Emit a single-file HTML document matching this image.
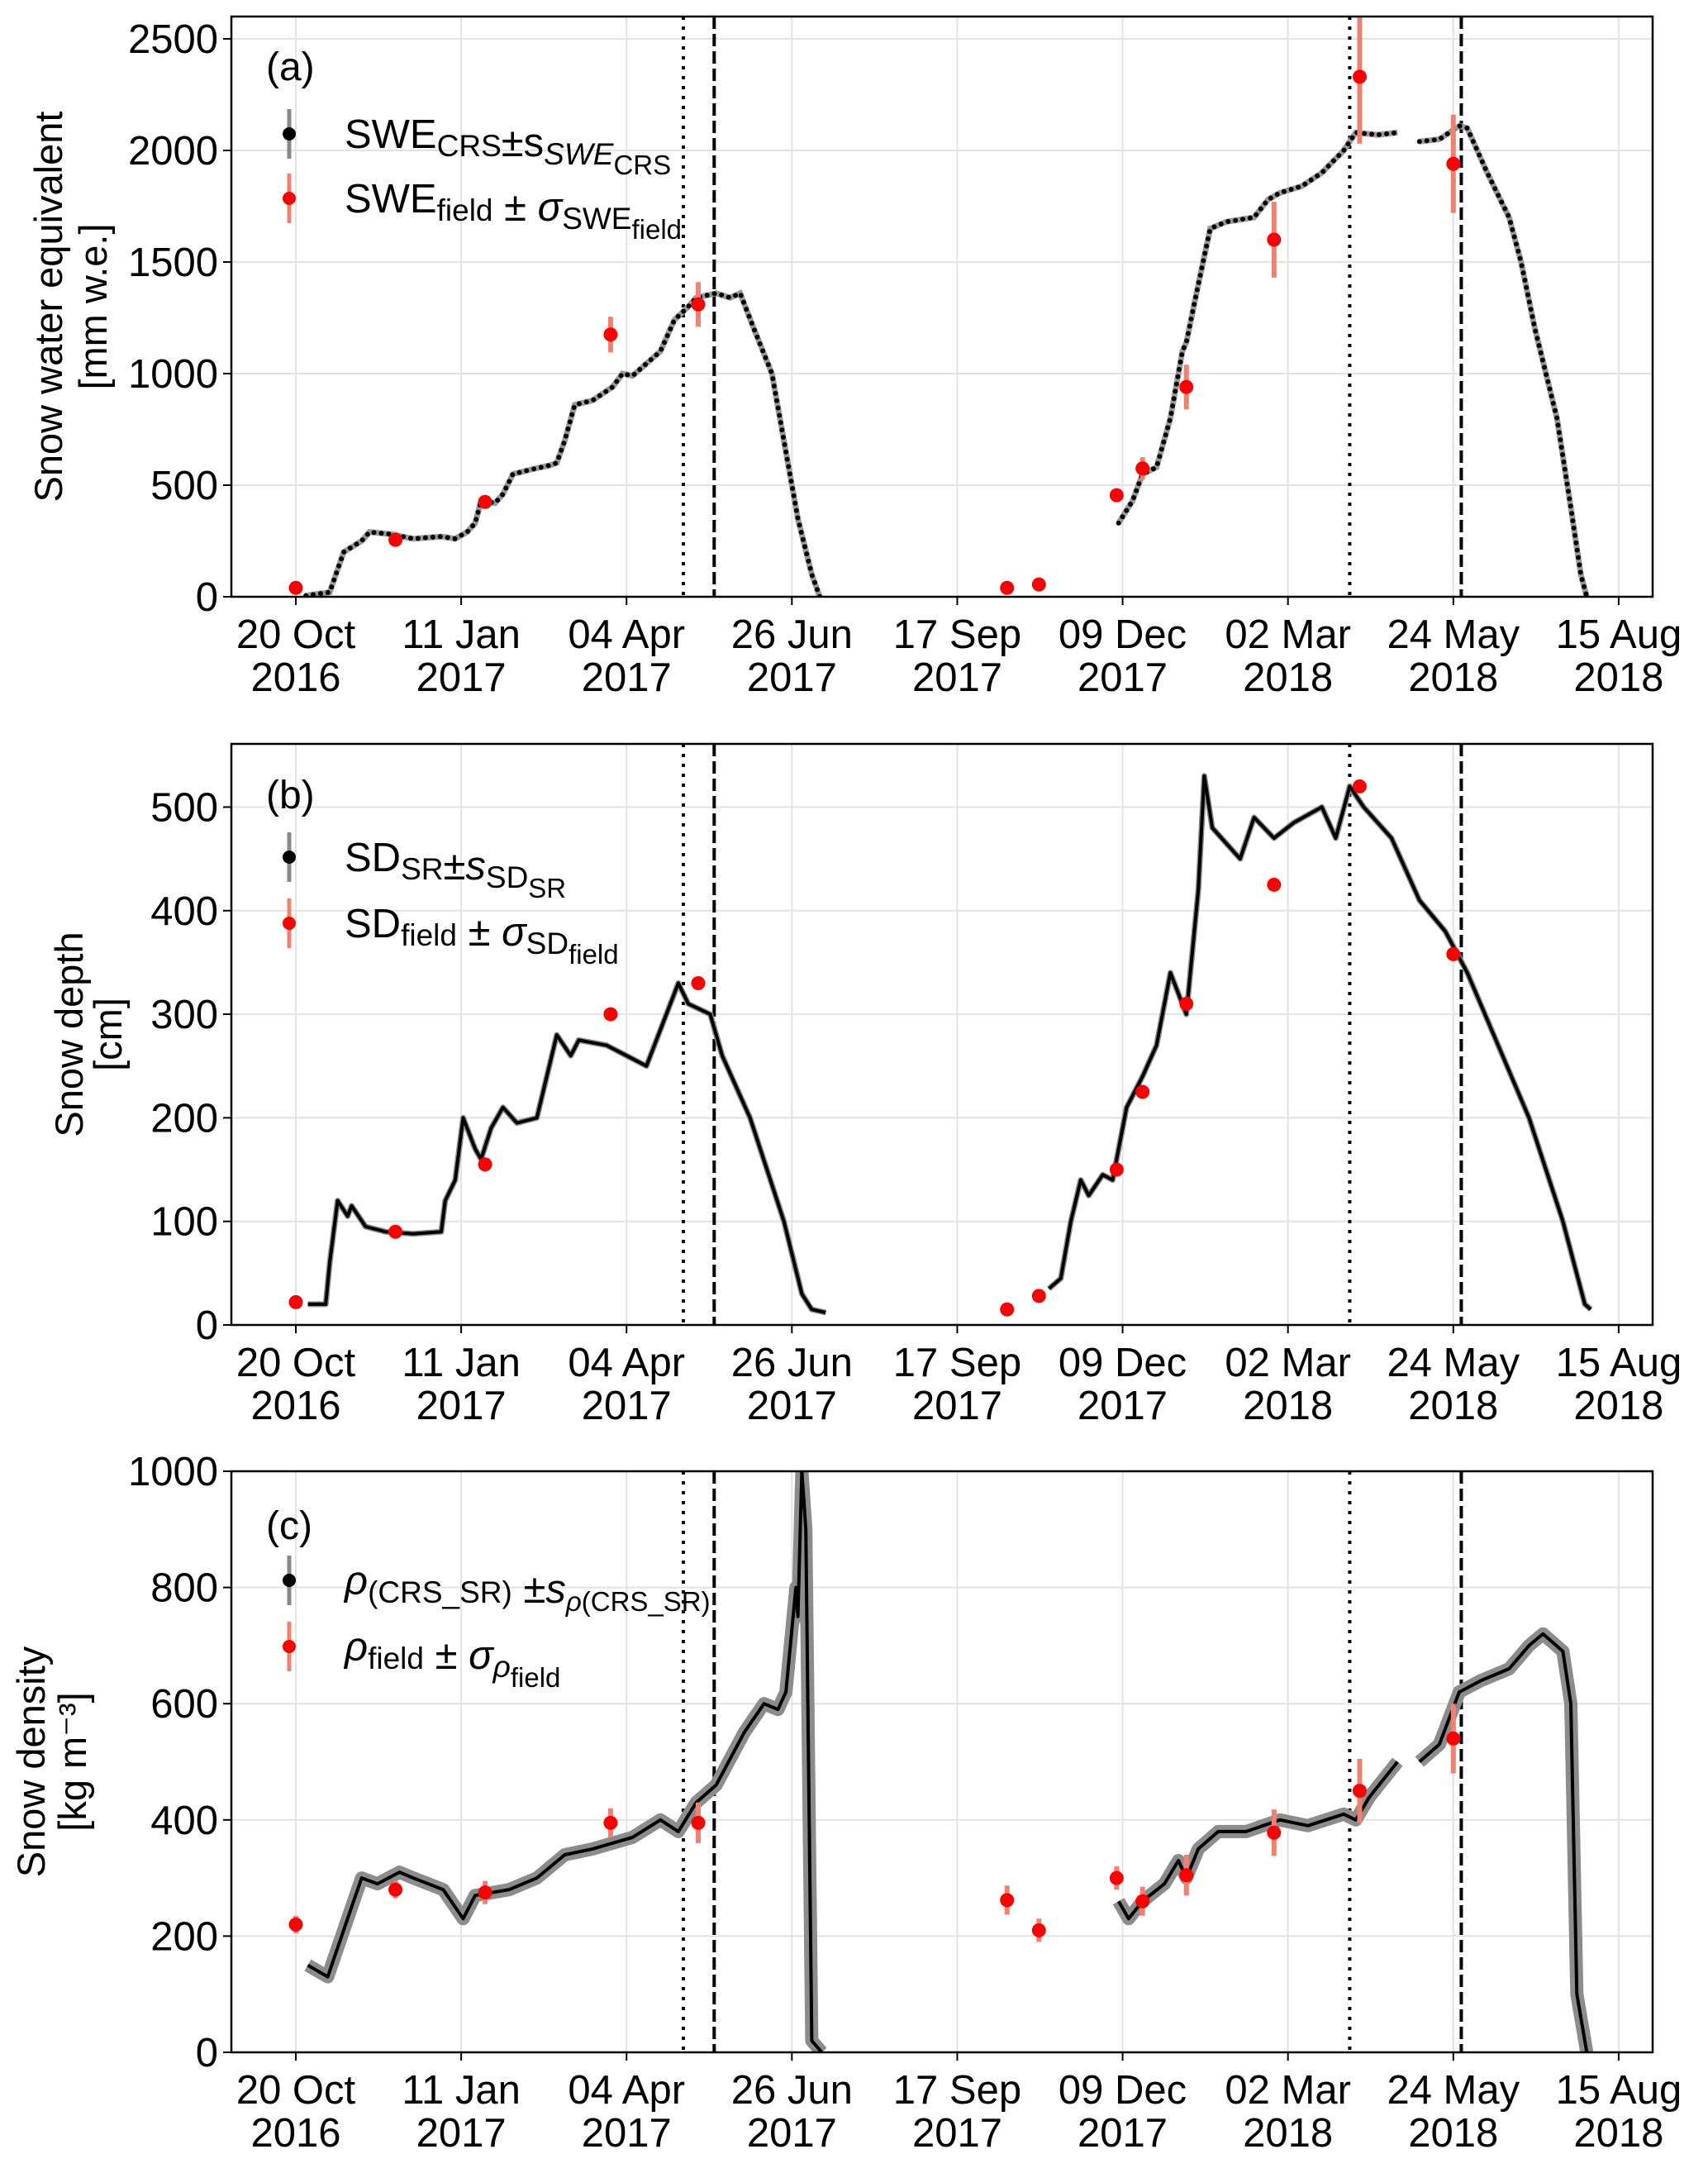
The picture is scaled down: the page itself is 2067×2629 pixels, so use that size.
<!DOCTYPE html>
<html><head><meta charset="utf-8">
<style>
body{margin:0;background:#fff;}
svg{display:block;font-family:"Liberation Sans",sans-serif;}
</style></head>
<body>
<svg id="chart" width="2067" height="2629" viewBox="0 0 2067 2629" xmlns="http://www.w3.org/2000/svg"></svg>
<script>
// ---- data (days since 20 Oct 2016) ----
const tickLabels1 = ["20 Oct","11 Jan","04 Apr","26 Jun","17 Sep","09 Dec","02 Mar","24 May","15 Aug"];
const tickLabels2 = ["2016","2017","2017","2017","2017","2017","2018","2018","2018"];
const vlineDotted = [194.5, 529];
const vlineDashed = [210, 585];

const sweDays1 = [5,17,24,33,37,48,59,73,80,86,90,93,100,104,109,118,128,131,135,140,149,159,164,169,183,190,197,201,211,218,223,230,239,247,252,259,263];
const sweVals1 = [5,20,200,250,290,280,260,270,260,290,330,430,420,460,550,570,590,600,700,860,880,940,1000,990,1100,1240,1300,1340,1360,1340,1360,1200,1000,600,350,100,0];
const sweDays2 = [413,420,425,432,439,445,447,453,459,467,481,488,494,505,515,526,532,543,553];
const sweVals2 = [330,430,550,580,800,1100,1140,1400,1650,1680,1700,1780,1810,1840,1900,2000,2080,2070,2080];
const sweDays3 = [564,574,584,588,598,609,615,622,633,640,645,648];
const sweVals3 = [2040,2050,2110,2100,1900,1700,1500,1200,800,400,100,0];
const fieldDays = [0,50,95,158,202,357,373,412,425,447,491,534,581];
const sweField = [40,255,425,1175,1310,40,55,455,575,940,1600,2330,1940];
const sweFieldErr = [0,0,0,80,100,0,0,0,50,100,170,300,220];

const sdDays1 = [6,15,17,21,26,28,35,45,59,73,75,80,84,90,93,98,104,111,121,131,138,142,156,176,182,192,197,208,214,228,245,254,259,266];
const sdVals1 = [20,20,60,120,105,115,95,90,88,90,120,140,200,170,160,190,210,195,200,280,260,275,270,250,280,330,310,300,260,200,100,30,15,12];
const sdDays2 = [378,384,389,394,398,405,410,417,425,432,439,447,453,456,460,474,481,491,501,515,522,529,536,550,564,577,588,619,636,647,650];
const sdVals2 = [35,45,100,140,125,145,140,210,240,270,340,300,420,530,480,450,490,470,485,500,470,520,500,470,410,380,340,200,100,20,15];
const sdField = [22,90,155,300,330,15,28,150,225,310,425,520,358];

const rhoDays1 = [6,16,19,26,33,41,52,59,74,84,90,107,121,135,149,169,183,192,201,211,225,235,242,246,251,252,254,256,259,264];
const rhoVals1 = [150,130,160,230,300,290,310,300,280,230,270,280,300,340,350,370,400,380,430,460,550,600,590,620,800,750,1000,900,20,0];
const rhoDays2 = [413,418,425,436,443,447,453,463,477,494,508,526,532,539,553];
const rhoVals2 = [260,230,260,290,330,300,350,380,380,400,390,410,400,440,500];
const rhoDays3 = [564,574,584,595,609,619,626,636,640,643,648];
const rhoVals3 = [500,530,620,640,660,700,720,690,600,100,0];
const rhoField = [220,280,275,395,395,262,210,300,260,305,378,450,540];
const rhoFieldErr = [15,15,20,25,35,25,20,20,25,35,40,55,60];

// ---- layout ----
const NS="http://www.w3.org/2000/svg";
const svg=document.getElementById('chart');
const X0=280,X1=2000;
const xs=d=>358+d*2.411;
function el(tag,attrs,parent){const e=document.createElementNS(NS,tag);for(const k in attrs)e.setAttribute(k,attrs[k]);(parent||svg).appendChild(e);return e;}

const panels=[
 {key:'a',top:20,bot:722,ymax:2600,ticks:[0,500,1000,1500,2000,2500],t1:'Snow water equivalent',t2:'[mm w.e.]',tx1:75,tx2:129},
 {key:'b',top:900,bot:1603,ymax:561,ticks:[0,100,200,300,400,500],t1:'Snow depth',t2:'[cm]',tx1:100,tx2:147},
 {key:'c',top:1780,bot:2483,ymax:1000,ticks:[0,200,400,600,800,1000],t1:'Snow density',t2:'[kg m\u207B\u00B3]',tx1:54,tx2:104}
];
panels.forEach(p=>{p.ys=v=>p.bot-(v/p.ymax)*(p.bot-p.top);});

function pathD(days,vals,ys){return days.map((d,i)=>(i?'L':'M')+xs(d).toFixed(1)+','+ys(vals[i]).toFixed(1)).join(' ');}

panels.forEach(p=>{
  const g=el('g',{});
  
  
  const clipId='clip'+p.key;
  const cp=el('clipPath',{id:clipId},g);el('rect',{x:X0,y:p.top,width:X1-X0,height:p.bot-p.top},cp);
  tickLabels1.forEach((t,i)=>{const x=xs(i*83);
    const gl=el('line',{x1:x,x2:x,y1:p.top,y2:p.bot,stroke:'#e3e3e3','stroke-width':2},g);
    
    el('line',{x1:x,x2:x,y1:p.bot,y2:p.bot+10,stroke:'#000','stroke-width':2},g);
    const t1=el('text',{x:x,y:p.bot+62,'font-size':49,'text-anchor':'middle'},g);t1.textContent=t;
    
    const t2=el('text',{x:x,y:p.bot+114,'font-size':49,'text-anchor':'middle'},g);t2.textContent=tickLabels2[i];
    
  });
  p.ticks.forEach(v=>{const y=p.ys(v);
    if(v>0&&v<p.ymax){const gl=el('line',{x1:X0,x2:X1,y1:y,y2:y,stroke:'#e3e3e3','stroke-width':2},g);
      }
    el('line',{x1:X0-10,x2:X0,y1:y,y2:y,stroke:'#000','stroke-width':2},g);
    const t=el('text',{x:X0-16,y:y+17,'font-size':49,'text-anchor':'end'},g);t.textContent=v;
    
  });
  const cy=(p.top+p.bot)/2;
  const a1=el('text',{x:p.tx1,y:cy,'font-size':47,'text-anchor':'middle',transform:`rotate(-90 ${p.tx1} ${cy})`},g);a1.textContent=p.t1;
  
  const a2=el('text',{x:p.tx2,y:cy,'font-size':47,'text-anchor':'middle',transform:`rotate(-90 ${p.tx2} ${cy})`},g);a2.textContent=p.t2;
  
  vlineDotted.forEach(d=>{const l=el('line',{x1:xs(d),x2:xs(d),y1:p.top,y2:p.bot,stroke:'#000','stroke-width':4,'stroke-dasharray':'4 8'},g);
    });
  vlineDashed.forEach(d=>{const l=el('line',{x1:xs(d),x2:xs(d),y1:p.top,y2:p.bot,stroke:'#000','stroke-width':4,'stroke-dasharray':'15 6'},g);
    });
  p.g=g;p.clip='url(#'+clipId+')';
});

function series(p,days,vals,kind,name){
  const d=pathD(days,vals,p.ys);
  if(kind==='dots'){
    el('path',{d,fill:'none',stroke:'#999','stroke-width':7,'clip-path':p.clip},p.g);
    const s=el('path',{d,fill:'none',stroke:'#000','stroke-width':6,'stroke-linecap':'round','stroke-dasharray':'0 9','clip-path':p.clip},p.g);
    
  } else {
    el('path',{d,fill:'none',stroke:'#8c8c8c','stroke-width':kind==='band'?16:7,'stroke-linejoin':'round','clip-path':p.clip},p.g);
    const s=el('path',{d,fill:'none',stroke:'#000','stroke-width':4,'stroke-linejoin':'round','clip-path':p.clip},p.g);
    
  }
}
const [pa,pb,pc]=panels;
series(pa,sweDays1,sweVals1,'dots','swe-crs-2017');
series(pa,sweDays2,sweVals2,'dots','swe-crs-2018a');
series(pa,sweDays3,sweVals3,'dots','swe-crs-2018b');
series(pb,sdDays1,sdVals1,'line','sd-sr-2017');
series(pb,sdDays2,sdVals2,'line','sd-sr-2018');
series(pc,rhoDays1,rhoVals1,'band','rho-2017');
series(pc,rhoDays2,rhoVals2,'band','rho-2018a');
series(pc,rhoDays3,rhoVals3,'band','rho-2018b');

function field(p,vals,errs,name){
  vals.forEach((v,i)=>{const x=xs(fieldDays[i]),y=p.ys(v);
    if(errs&&errs[i]>0){el('line',{x1:x,x2:x,y1:p.ys(v-errs[i]),y2:Math.max(p.top,p.ys(v+errs[i])),stroke:'#f28070','stroke-width':6},p.g);}
    const c=el('circle',{cx:x,cy:y,r:8.5,fill:'#ff0000'},p.g);
    
  });
}
field(pa,sweField,sweFieldErr,'swe-field-point');
field(pb,sdField,null,'sd-field-point');
field(pc,rhoField,rhoFieldErr,'rho-field-point');

panels.forEach(p=>{const r=el('rect',{x:X0,y:p.top,width:X1-X0,height:p.bot-p.top,fill:'none',stroke:'#000','stroke-width':2.5},p.g);
  });

function legend(p,labelY,e1,e2,h1,h2){
  const lab=el('text',{x:322,y:labelY,'font-size':48},p.g);lab.textContent='('+p.key+')';
  
  el('line',{x1:350,x2:350,y1:e1-30,y2:e1+30,stroke:'#888','stroke-width':5},p.g);
  el('circle',{cx:350,cy:e1,r:8,fill:'#000'},p.g);
  el('line',{x1:350,x2:350,y1:e2-30,y2:e2+30,stroke:'#f28070','stroke-width':5},p.g);
  el('circle',{cx:350,cy:e2,r:8,fill:'#ff0000'},p.g);
  const t1=el('text',{x:417,y:e1+17,'font-size':49},p.g);t1.innerHTML=h1;
  
  const t2=el('text',{x:417,y:e2+17,'font-size':49},p.g);t2.innerHTML=h2;
  
}
const sub=(t)=>`<tspan dy="10" font-size="37">${t}</tspan><tspan dy="-10"></tspan>`;
legend(pa,97,162,240,
 `SWE${sub('CRS')}±s<tspan dy="10" font-size="37" font-style="italic">SWE</tspan><tspan dy="12" font-size="33">CRS</tspan><tspan dy="-22"></tspan>`,
 `SWE${sub('field')} ± <tspan font-style="italic">σ</tspan><tspan dy="10" font-size="37">SWE</tspan><tspan dy="12" font-size="33">field</tspan><tspan dy="-22"></tspan>`);
legend(pb,978,1037,1117,
 `SD${sub('SR')}±<tspan font-style="italic">s</tspan><tspan dy="10" font-size="37">SD</tspan><tspan dy="12" font-size="33">SR</tspan><tspan dy="-22"></tspan>`,
 `SD${sub('field')} ± <tspan font-style="italic">σ</tspan><tspan dy="10" font-size="37">SD</tspan><tspan dy="12" font-size="33">field</tspan><tspan dy="-22"></tspan>`);
legend(pc,1862,1912,1992,
 `<tspan font-style="italic">ρ</tspan>${sub('(CRS_SR)')} ±<tspan font-style="italic">s</tspan><tspan dy="10" font-size="33" font-style="italic">ρ</tspan><tspan font-size="33">(CRS_SR)</tspan><tspan dy="-10"></tspan>`,
 `<tspan font-style="italic">ρ</tspan>${sub('field')} ± <tspan font-style="italic">σ</tspan><tspan dy="10" font-size="37" font-style="italic">ρ</tspan><tspan dy="12" font-size="33">field</tspan><tspan dy="-22"></tspan>`);
</script>
</body></html>
